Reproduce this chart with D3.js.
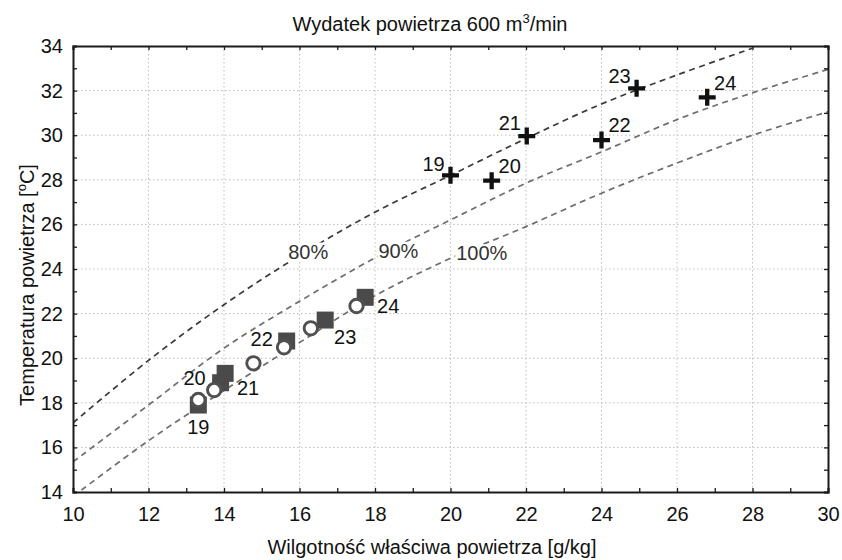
<!DOCTYPE html>
<html>
<head>
<meta charset="utf-8">
<script src="https://cdn.jsdelivr.net/npm/d3@7.9.0/dist/d3.min.js"></script>
<style>
  body { margin: 0; background: #fff; }
  svg text { font-family: Arial, "Liberation Sans", Helvetica, sans-serif; fill: #111; }
</style>
</head>
<body>
<svg id="chart" width="842" height="560"></svg>
<script>
// ---- data ----
const xTicks = [10, 12, 14, 16, 18, 20, 22, 24, 26, 28, 30];
const yTicks = [14, 16, 18, 20, 22, 24, 26, 28, 30, 32, 34];

// relative humidity curves (x = g/kg, y = degC)
const rh80X = [10, 12, 14, 16, 18, 20, 22, 24, 26, 28];
const rh80Y = [17.1, 19.9, 22.4, 24.6, 26.55, 28.2, 29.85, 31.4, 32.7, 33.9];
const rh90X = [10, 12, 14, 16, 18, 20, 22, 24, 26, 28, 30];
const rh90Y = [15.35, 17.9, 20.45, 22.55, 24.5, 26.2, 27.85, 29.25, 30.7, 31.9, 32.95];
const rh100X = [10, 12, 14, 16, 18, 20, 22, 24, 26, 28, 30];
const rh100Y = [13.8, 16.3, 18.55, 20.7, 22.8, 24.48, 25.9, 27.4, 28.75, 30.0, 31.05];
const curveNames = ['80%', '90%', '100%'];
const curveLabelX = [16.23, 18.62, 20.83];
const curveLabelY = [24.78, 24.82, 24.7];

const pointLabels = ['19', '20', '21', '22', '23', '24'];
// crosses
const plusX = [20.0, 21.09, 22.02, 24.0, 24.93, 26.8];
const plusY = [28.2, 27.96, 29.96, 29.78, 32.1, 31.7];
// open circles
const circleX = [13.32, 13.74, 14.78, 15.59, 16.3, 17.51];
const circleY = [18.13, 18.57, 19.77, 20.49, 21.34, 22.34];
// filled squares
const squareX = [13.32, 13.91, 14.03, 15.66, 16.68, 17.74];
const squareY = [17.9, 18.9, 19.32, 20.77, 21.71, 22.73];

// label offsets in px
const plusLabelDx = [-17, 18, -17, 18, -17, 18];
const plusLabelDy = [-11, -15, -13, -15, -12, -14];
const lowLabelDx = [0, -26, 23, -25, 20, 23];
const lowLabelDy = [22, -5, 15, -2, 17, 9];

const svg = d3.select('#chart');
const pLeft = 73, pRight = 828, pTop = 46, pBottom = 492;
const fs = 20;

let x = d3.scaleLinear().domain([10, 30]).range([pLeft, pRight]);
let y = d3.scaleLinear().domain([14, 34]).range([pBottom, pTop]);

// grid
let grid = svg.append('g').attr('stroke', '#bdbdbd').attr('stroke-width', 1).attr('stroke-dasharray', '1.5,2.5');
xTicks.slice(1, -1).forEach(v => {
  grid.append('line').attr('x1', x(v)).attr('x2', x(v)).attr('y1', pTop).attr('y2', pBottom);
});
yTicks.slice(1, -1).forEach(v => {
  grid.append('line').attr('x1', pLeft).attr('x2', pRight).attr('y1', y(v)).attr('y2', y(v));
});

// clip
svg.append('clipPath').attr('id', 'plot')
  .append('rect').attr('x', pLeft).attr('y', pTop).attr('width', pRight - pLeft).attr('height', pBottom - pTop);

// curves
let line = d3.line().x(d => x(d[0])).y(d => y(d[1])).curve(d3.curveCatmullRom);
let curves = [
  { xs: rh80X, ys: rh80Y, color: '#3a3a3a' },
  { xs: rh90X, ys: rh90Y, color: '#6e6e6e' },
  { xs: rh100X, ys: rh100Y, color: '#6e6e6e' },
];
let curveG = svg.append('g').attr('clip-path', 'url(#plot)');
curves.forEach(c => {
  curveG.append('path')
    .attr('d', line(c.xs.map((v, i) => [v, c.ys[i]])))
    .attr('fill', 'none')
    .attr('stroke', c.color)
    .attr('stroke-width', 1.7)
    .attr('stroke-dasharray', '6,4.5');
});
// curve labels sit on a white patch that hides the dashes behind them
curveNames.forEach((n, i) => {
  let g = svg.append('g');
  let bg = g.append('rect').attr('fill', '#fff');
  let t = g.append('text')
    .attr('x', x(curveLabelX[i])).attr('y', y(curveLabelY[i]))
    .attr('text-anchor', 'middle').attr('dominant-baseline', 'central')
    .attr('font-size', fs).style('fill', '#333')
    .text(n);
  let b = t.node().getBBox();
  bg.attr('x', b.x - 1).attr('y', b.y + 2).attr('width', b.width + 2).attr('height', b.height - 3);
});

// axes: ticks pointing inward on all four sides
const minorX = d3.range(11, 30, 2);
const minorY = d3.range(15, 34, 2);
function addAxis(axis, tx, ty, vals, labels) {
  let g = svg.append('g').attr('transform', `translate(${tx},${ty})`)
    .call(axis.tickValues(vals).tickSize(-4).tickPadding(0)
      .tickFormat(labels ? d3.format('d') : ''));
  g.select('.domain').attr('stroke', '#1a1a1a').attr('stroke-width', 2);
  g.selectAll('.tick line').attr('stroke', '#1a1a1a').attr('stroke-width', 1.3);
  return g;
}
let xb = addAxis(d3.axisBottom(x), 0, pBottom, xTicks.concat(minorX), true);
xb.selectAll('.tick text').attr('font-size', fs).attr('y', 15)
  .text(d => (d % 2 === 0 ? d : ''));
let yl = addAxis(d3.axisLeft(y), pLeft, 0, yTicks.concat(minorY), true);
yl.selectAll('.tick text').attr('font-size', fs).attr('x', -10)
  .text(d => (d % 2 === 0 ? d : ''));
addAxis(d3.axisTop(x), 0, pTop, xTicks.concat(minorX), false);
addAxis(d3.axisRight(y), pRight, 0, yTicks.concat(minorY), false);
svg.selectAll('g[font-family]').attr('font-family', null);
svg.selectAll('.tick text').style('fill', '#111');

// squares
let sq = 17;
squareX.forEach((v, i) => {
  svg.append('rect')
    .attr('x', x(v) - sq / 2).attr('y', y(squareY[i]) - sq / 2)
    .attr('width', sq).attr('height', sq)
    .attr('fill', '#4a4a4a');
});
// circles
circleX.forEach((v, i) => {
  svg.append('circle')
    .attr('cx', x(v)).attr('cy', y(circleY[i])).attr('r', 6.7)
    .attr('fill', '#fff').attr('stroke', '#505050').attr('stroke-width', 2.9);
});
// crosses
plusX.forEach((v, i) => {
  let cx = x(v), cy = y(plusY[i]), a = 8.5;
  svg.append('path')
    .attr('d', `M${cx - a},${cy}H${cx + a}M${cx},${cy - a}V${cy + a}`)
    .attr('stroke', '#111').attr('stroke-width', 4.3).attr('fill', 'none');
});

// point labels
pointLabels.forEach((t, i) => {
  svg.append('text')
    .attr('x', x(plusX[i]) + plusLabelDx[i]).attr('y', y(plusY[i]) + plusLabelDy[i])
    .attr('text-anchor', 'middle').attr('dominant-baseline', 'central')
    .attr('font-size', fs).text(t);
  svg.append('text')
    .attr('x', x(squareX[i]) + lowLabelDx[i]).attr('y', y(squareY[i]) + lowLabelDy[i])
    .attr('text-anchor', 'middle').attr('dominant-baseline', 'central')
    .attr('font-size', fs).text(t);
});

// title
let title = svg.append('text').attr('x', 430).attr('y', 31)
  .attr('text-anchor', 'middle').attr('font-size', fs);
title.append('tspan').text('Wydatek powietrza 600 m');
title.append('tspan').attr('font-size', 13).attr('dy', -8).text('3');
title.append('tspan').attr('dy', 8).text('/min');

// axis titles
svg.append('text').attr('x', 432).attr('y', 554)
  .attr('text-anchor', 'middle').attr('font-size', fs)
  .text('Wilgotność właściwa powietrza [g/kg]');
let yt = svg.append('text').attr('transform', 'translate(34,285) rotate(-90)')
  .attr('text-anchor', 'middle').attr('font-size', fs);
yt.append('tspan').text('Temperatura powietrza [');
yt.append('tspan').attr('font-size', 13).attr('dy', -8).text('o');
yt.append('tspan').attr('dy', 8).text('C]');
</script>
</body>
</html>
